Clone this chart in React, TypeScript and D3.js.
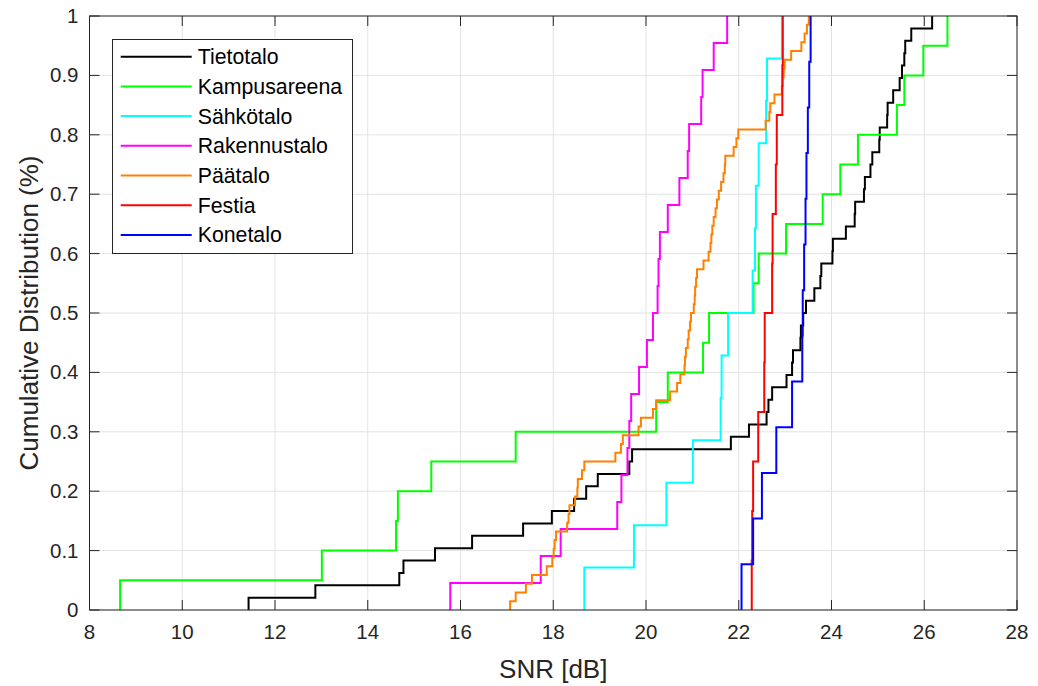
import React from "react";
import * as d3 from "d3";

// Empirical CDF samples of SNR [dB] per building
const tietotalo = [11.43, 12.87, 14.68, 14.77, 15.45, 16.25, 17.35, 17.97, 18.45, 18.71, 18.96, 19.64, 19.7, 21.83, 22.22, 22.6, 22.64, 22.72, 23.03, 23.15, 23.17, 23.33, 23.34, 23.39, 23.45, 23.63, 23.76, 23.78, 24.02, 24.03, 24.31, 24.5, 24.51, 24.7, 24.72, 24.84, 24.88, 25.03, 25.04, 25.2, 25.21, 25.33, 25.47, 25.52, 25.57, 25.59, 25.72, 26.17];
const kampusareena = [8.66, 13.01, 14.61, 14.65, 15.37, 17.19, 20.22, 20.47, 21.23, 21.36, 22.32, 22.43, 23.02, 23.81, 24.19, 24.57, 25.41, 25.57, 25.98, 26.5];
const sahkotalo = [18.67, 19.74, 20.44, 21.01, 21.61, 21.63, 21.77, 22.3, 22.35, 22.37, 22.43, 22.59, 22.61, 22.93];
const rakennustalo = [15.78, 17.73, 18.16, 19.38, 19.47, 19.6, 19.64, 19.68, 19.85, 20.02, 20.15, 20.25, 20.27, 20.3, 20.47, 20.72, 20.9, 20.93, 21.19, 21.22, 21.46, 21.75];
const paatalo = [17.07, 17.19, 17.41, 17.54, 17.86, 17.98, 18.01, 18.03, 18.06, 18.3, 18.33, 18.35, 18.47, 18.52, 18.53, 18.62, 18.67, 19.34, 19.46, 19.5, 19.84, 19.89, 20.15, 20.22, 20.52, 20.67, 20.74, 20.83, 20.84, 20.86, 20.9, 20.92, 20.95, 20.97, 21.03, 21.05, 21.06, 21.08, 21.1, 21.24, 21.35, 21.39, 21.41, 21.43, 21.46, 21.5, 21.53, 21.57, 21.62, 21.67, 21.7, 21.71, 21.89, 21.95, 21.99, 22.58, 22.66, 22.68, 22.77, 22.93, 22.95, 22.97, 22.99, 23.13, 23.35, 23.42, 23.47, 23.51];
const festia = [22.28, 22.29, 22.31, 22.42, 22.55, 22.56, 22.72, 22.73, 22.8, 22.82, 22.94, 22.95];
const konetalo = [22.06, 22.31, 22.5, 22.81, 23.15, 23.37, 23.38, 23.41, 23.44, 23.46, 23.49, 23.52, 23.55];

const seriesNames = ["Tietotalo", "Kampusareena", "Sähkötalo", "Rakennustalo", "Päätalo", "Festia", "Konetalo"];
const seriesValues = [tietotalo, kampusareena, sahkotalo, rakennustalo, paatalo, festia, konetalo];
const seriesColors = ["#000000", "#00ff00", "#00ffff", "#ff00ff", "#ff8000", "#ff0000", "#0000ff"];

const xTicks = [8, 10, 12, 14, 16, 18, 20, 22, 24, 26, 28];
const yTicks = [0, 0.1, 0.2, 0.3, 0.4, 0.5, 0.6, 0.7, 0.8, 0.9, 1];
const yTickLabels = ["0", "0.1", "0.2", "0.3", "0.4", "0.5", "0.6", "0.7", "0.8", "0.9", "1"];

const W = 1038;
const H = 686;
const left = 89.5;
const right = 1017;
const top = 16;
const bottom = 610;

const axisColor = "#262626";
const font = "'Liberation Sans', Arial, Helvetica, sans-serif";

function ecdfPoints(vals: number[]): [number, number][] {
  const s = [...vals].sort((a, b) => a - b);
  const n = s.length;
  const pts: [number, number][] = [[s[0], 0]];
  s.forEach((v, i) => pts.push([v, (i + 1) / n]));
  return pts;
}

export default function App() {
  const x = d3.scaleLinear().domain([8, 28]).range([left, right]);
  const y = d3.scaleLinear().domain([0, 1]).range([bottom, top]);
  const line = d3
    .line<[number, number]>()
    .x((d) => x(d[0]))
    .y((d) => y(d[1]))
    .curve(d3.curveStepAfter);

  const tickLen = 10;
  const legX = 112.5;
  const legY = 39.5;
  const legW = 240;
  const legH = 214;
  const rowH = 29.7;

  return (
    <svg
      width={W}
      height={H}
      style={{ position: "absolute", left: 0, top: 0, background: "#fff" }}
      fontFamily={font}
    >
      <defs>
        <clipPath id="plotClip">
          <rect x={left} y={top} width={right - left} height={bottom - top} />
        </clipPath>
      </defs>
      <rect x={0} y={0} width={W} height={H} fill="#fff" />

      {/* grid */}
      <g stroke="#e3e3e3" strokeWidth={1}>
        {xTicks.map((t) => (
          <line key={"gx" + t} x1={x(t)} x2={x(t)} y1={top} y2={bottom} />
        ))}
        {yTicks.map((t) => (
          <line key={"gy" + t} x1={left} x2={right} y1={y(t)} y2={y(t)} />
        ))}
      </g>

      {/* CDF curves */}
      <g clipPath="url(#plotClip)" fill="none" strokeWidth={2}>
        {seriesValues.map((vals, i) => (
          <path key={seriesNames[i]} d={line(ecdfPoints(vals)) || ""} stroke={seriesColors[i]} />
        ))}
      </g>

      {/* axes box and ticks */}
      <g stroke={axisColor} strokeWidth={1} fill="none">
        <rect x={left} y={top} width={right - left} height={bottom - top} />
        {xTicks.map((t) => (
          <g key={"tx" + t}>
            <line x1={x(t)} x2={x(t)} y1={bottom} y2={bottom - tickLen} />
            <line x1={x(t)} x2={x(t)} y1={top} y2={top + tickLen} />
          </g>
        ))}
        {yTicks.map((t) => (
          <g key={"ty" + t}>
            <line x1={left} x2={left + tickLen} y1={y(t)} y2={y(t)} />
            <line x1={right} x2={right - tickLen} y1={y(t)} y2={y(t)} />
          </g>
        ))}
      </g>

      {/* tick labels */}
      <g fill={axisColor} fontSize={20.5}>
        {xTicks.map((t) => (
          <text key={"lx" + t} x={x(t)} y={bottom + 29} textAnchor="middle">
            {t}
          </text>
        ))}
        {yTicks.map((t, i) => (
          <text key={"ly" + t} x={left - 11} y={y(t) + 7} textAnchor="end">
            {yTickLabels[i]}
          </text>
        ))}
      </g>

      {/* axis labels */}
      <text x={(left + right) / 2} y={678} textAnchor="middle" fontSize={26} fill={axisColor}>
        SNR [dB]
      </text>
      <text
        transform={`translate(38, ${(top + bottom) / 2}) rotate(-90)`}
        textAnchor="middle"
        fontSize={26}
        fill={axisColor}
      >
        Cumulative Distribution (%)
      </text>

      {/* legend */}
      <g>
        <rect x={legX} y={legY} width={legW} height={legH} fill="#fff" stroke={axisColor} strokeWidth={1} />
        {seriesNames.map((name, i) => {
          const cy = legY + 17.2 + i * rowH;
          return (
            <g key={"leg" + name}>
              <line x1={120.7} x2={191.7} y1={cy} y2={cy} stroke={seriesColors[i]} strokeWidth={2} />
              <text x={197.7} y={cy + 7.5} fontSize={21.3} fill="#000">
                {name}
              </text>
            </g>
          );
        })}
      </g>
    </svg>
  );
}
